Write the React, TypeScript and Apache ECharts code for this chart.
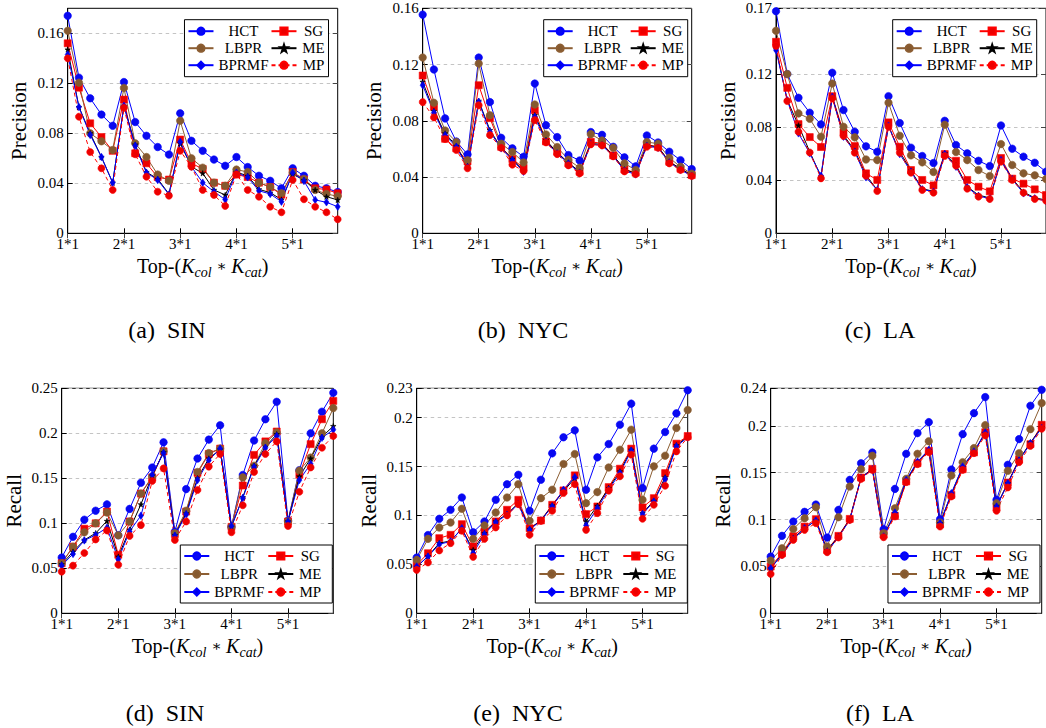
import React, { useEffect, useRef } from 'react';
import * as echarts from 'echarts';

const W = 1046;
const H = 728;
const FONT = 'Liberation Serif, Times New Roman, serif';

// x categories: Top-(Kcol * Kcat)
const K_COL = ['1', '2', '3', '4', '5'];
const K_CAT = ['1', '2', '3', '4', '5'];
const CATEGORIES = K_COL.flatMap((c) => K_CAT.map((k) => `${c}*${k}`));

const METHODS = ['HCT', 'SG', 'LBPR', 'ME', 'BPRMF', 'MP'];

// y tick labels per panel
const TICKS_SIN_PREC = [0, 0.04, 0.08, 0.12, 0.16];
const TICKS_NYC_PREC = [0, 0.04, 0.08, 0.12, 0.16];
const TICKS_LA_PREC = [0, 0.04, 0.08, 0.12, 0.17];
const TICKS_SIN_REC = [0, 0.05, 0.1, 0.15, 0.2, 0.25];
const TICKS_NYC_REC = [0, 0.05, 0.1, 0.15, 0.2, 0.23];
const TICKS_LA_REC = [0, 0.05, 0.1, 0.15, 0.2, 0.24];

// (a) SIN precision
const sinPrecHCT = [0.174, 0.1245, 0.108, 0.095, 0.086, 0.121, 0.089, 0.078, 0.069, 0.063, 0.096, 0.074, 0.066, 0.059, 0.054, 0.061, 0.053, 0.046, 0.042, 0.036, 0.052, 0.046, 0.038, 0.036, 0.033];
const sinPrecSG = [0.152, 0.1165, 0.088, 0.077, 0.066, 0.107, 0.064, 0.056, 0.045, 0.043, 0.075, 0.056, 0.0515, 0.0405, 0.038, 0.047, 0.045, 0.0405, 0.037, 0.031, 0.049, 0.043, 0.036, 0.035, 0.032];
const sinPrecLBPR = [0.162, 0.1205, 0.08, 0.0736, 0.0667, 0.1163, 0.072, 0.061, 0.047, 0.042, 0.09, 0.06, 0.0525, 0.0405, 0.038, 0.051, 0.049, 0.0405, 0.037, 0.032, 0.0485, 0.0435, 0.0347, 0.0315, 0.0296];
const sinPrecME = [0.147, 0.101, 0.08, 0.061, 0.0405, 0.102, 0.071, 0.049, 0.0435, 0.0315, 0.072, 0.0533, 0.048, 0.0347, 0.0307, 0.049, 0.0459, 0.0352, 0.0325, 0.027, 0.0472, 0.0427, 0.0347, 0.0293, 0.0267];
const sinPrecBPRMF = [0.143, 0.101, 0.0787, 0.061, 0.0405, 0.102, 0.07, 0.0485, 0.0427, 0.031, 0.0733, 0.0533, 0.0405, 0.0333, 0.027, 0.0485, 0.0448, 0.034, 0.0315, 0.0253, 0.0485, 0.0419, 0.0267, 0.0248, 0.0213];
const sinPrecMP = [0.14, 0.0933, 0.065, 0.052, 0.0347, 0.1005, 0.0632, 0.0453, 0.0333, 0.0301, 0.066, 0.0533, 0.0347, 0.0307, 0.0219, 0.0472, 0.0347, 0.0293, 0.0213, 0.0168, 0.0427, 0.0272, 0.0213, 0.0168, 0.0112];

// (b) NYC precision
const nycPrecHCT = [0.1555, 0.1165, 0.0817, 0.0653, 0.0561, 0.125, 0.0933, 0.0679, 0.0604, 0.0544, 0.1065, 0.0769, 0.0684, 0.0556, 0.0518, 0.072, 0.07, 0.0615, 0.054, 0.0476, 0.0696, 0.0646, 0.058, 0.052, 0.0457];
const nycPrecSG = [0.1122, 0.0899, 0.0672, 0.0604, 0.0511, 0.1053, 0.0819, 0.0615, 0.0528, 0.0466, 0.0876, 0.0653, 0.058, 0.0497, 0.0438, 0.0651, 0.0639, 0.0554, 0.0454, 0.0431, 0.063, 0.0615, 0.0509, 0.0459, 0.0414];
const nycPrecLBPR = [0.125, 0.0928, 0.0731, 0.0649, 0.052, 0.1207, 0.084, 0.0637, 0.0578, 0.0504, 0.0916, 0.0703, 0.0613, 0.0523, 0.0466, 0.0705, 0.066, 0.0608, 0.0497, 0.045, 0.0649, 0.0637, 0.0537, 0.0473, 0.0424];
const nycPrecME = [0.1077, 0.0869, 0.071, 0.0622, 0.0478, 0.0942, 0.0734, 0.0608, 0.053, 0.0445, 0.084, 0.0663, 0.0573, 0.0502, 0.0438, 0.0639, 0.0632, 0.0554, 0.0454, 0.0426, 0.0625, 0.0615, 0.0509, 0.0459, 0.0414];
const nycPrecBPRMF = [0.1053, 0.0859, 0.0698, 0.0615, 0.0469, 0.0935, 0.0722, 0.0604, 0.0521, 0.0438, 0.0828, 0.0651, 0.0568, 0.0497, 0.0431, 0.0634, 0.0625, 0.0549, 0.0445, 0.0419, 0.062, 0.0608, 0.0504, 0.0452, 0.0407];
const nycPrecMP = [0.0933, 0.0824, 0.067, 0.0592, 0.0462, 0.0911, 0.0698, 0.0608, 0.0488, 0.0443, 0.0805, 0.0646, 0.0563, 0.0483, 0.0426, 0.0632, 0.0625, 0.0547, 0.044, 0.0421, 0.0615, 0.0608, 0.0497, 0.045, 0.0407];

// (c) LA precision
const laPrecHCT = [0.1678, 0.1203, 0.1024, 0.0911, 0.0823, 0.1213, 0.0931, 0.0767, 0.0657, 0.0616, 0.1036, 0.0833, 0.0647, 0.0584, 0.0531, 0.085, 0.0667, 0.0604, 0.0548, 0.0508, 0.0815, 0.0639, 0.0579, 0.0533, 0.0465];
const laPrecSG = [0.1447, 0.1099, 0.0825, 0.0727, 0.0652, 0.1036, 0.0762, 0.0659, 0.0453, 0.0403, 0.0838, 0.0654, 0.0478, 0.0403, 0.0362, 0.0599, 0.0548, 0.0403, 0.0352, 0.0317, 0.0569, 0.0413, 0.0375, 0.0332, 0.0289];
const laPrecLBPR = [0.153, 0.1203, 0.0906, 0.0865, 0.073, 0.1132, 0.0805, 0.0725, 0.0558, 0.0553, 0.0986, 0.0737, 0.0589, 0.0536, 0.0463, 0.082, 0.0614, 0.0553, 0.0478, 0.0433, 0.0674, 0.0516, 0.0453, 0.0438, 0.041];
const laPrecME = [0.1396, 0.1006, 0.0815, 0.0616, 0.0428, 0.1031, 0.0742, 0.0624, 0.044, 0.0327, 0.081, 0.0616, 0.0473, 0.0337, 0.0317, 0.0604, 0.0516, 0.0352, 0.0289, 0.0267, 0.0548, 0.0413, 0.0312, 0.0267, 0.0252];
const laPrecBPRMF = [0.1384, 0.1006, 0.0755, 0.0604, 0.0435, 0.1031, 0.073, 0.0616, 0.0423, 0.0327, 0.0813, 0.0599, 0.0465, 0.0332, 0.0314, 0.0599, 0.0503, 0.0347, 0.0282, 0.0262, 0.0553, 0.0408, 0.0302, 0.0264, 0.0244];
const laPrecMP = [0.1416, 0.0999, 0.0767, 0.0611, 0.0415, 0.1019, 0.0735, 0.0609, 0.0435, 0.0319, 0.0805, 0.0609, 0.0458, 0.0327, 0.0307, 0.0584, 0.0511, 0.0337, 0.0277, 0.0259, 0.0541, 0.0403, 0.0307, 0.0259, 0.0247];

// (d) SIN recall
const sinRecHCT = [0.062, 0.085, 0.104, 0.114, 0.121, 0.0867, 0.116, 0.145, 0.162, 0.19, 0.0907, 0.138, 0.172, 0.193, 0.209, 0.096, 0.1537, 0.192, 0.2156, 0.235, 0.103, 0.159, 0.2, 0.224, 0.245];
const sinRecSG = [0.0556, 0.074, 0.094, 0.1, 0.113, 0.065, 0.102, 0.133, 0.151, 0.18, 0.088, 0.113, 0.156, 0.177, 0.183, 0.096, 0.142, 0.176, 0.191, 0.202, 0.102, 0.154, 0.188, 0.2156, 0.236];
const sinRecLBPR = [0.0556, 0.074, 0.09, 0.1, 0.112, 0.0867, 0.102, 0.133, 0.152, 0.18, 0.089, 0.114, 0.157, 0.178, 0.183, 0.096, 0.151, 0.164, 0.189, 0.201, 0.102, 0.1585, 0.173, 0.2, 0.228];
const sinRecME = [0.0544, 0.0685, 0.0815, 0.089, 0.1026, 0.063, 0.093, 0.121, 0.153, 0.179, 0.087, 0.111, 0.15, 0.172, 0.182, 0.096, 0.129, 0.164, 0.185, 0.199, 0.102, 0.152, 0.172, 0.196, 0.208];
const sinRecBPRMF = [0.053, 0.066, 0.081, 0.087, 0.095, 0.06, 0.091, 0.1085, 0.154, 0.178, 0.0863, 0.11, 0.148, 0.17, 0.183, 0.097, 0.128, 0.1626, 0.184, 0.197, 0.102, 0.148, 0.166, 0.195, 0.204];
const sinRecMP = [0.0463, 0.053, 0.067, 0.082, 0.092, 0.054, 0.086, 0.098, 0.147, 0.161, 0.0815, 0.102, 0.137, 0.163, 0.177, 0.09, 0.12, 0.157, 0.177, 0.191, 0.097, 0.135, 0.162, 0.184, 0.197];

// (e) NYC recall
const nycRecHCT = [0.057, 0.08, 0.0966, 0.1058, 0.1184, 0.0829, 0.0939, 0.116, 0.132, 0.1416, 0.1048, 0.1365, 0.1635, 0.1799, 0.187, 0.1263, 0.1594, 0.173, 0.1928, 0.2143, 0.128, 0.1683, 0.1853, 0.2044, 0.228];
const nycRecSG = [0.0495, 0.0614, 0.0768, 0.0802, 0.0911, 0.0683, 0.0836, 0.0939, 0.1058, 0.116, 0.087, 0.0949, 0.1109, 0.1256, 0.141, 0.1014, 0.1092, 0.129, 0.1478, 0.1683, 0.1082, 0.1177, 0.1433, 0.1734, 0.1812];
const nycRecLBPR = [0.0546, 0.0761, 0.0877, 0.0928, 0.1068, 0.0761, 0.0898, 0.103, 0.1184, 0.132, 0.0945, 0.1177, 0.1263, 0.1526, 0.1628, 0.1126, 0.1239, 0.1491, 0.1672, 0.1877, 0.116, 0.1502, 0.1611, 0.1894, 0.2078];
const nycRecME = [0.0474, 0.0584, 0.0717, 0.074, 0.0863, 0.0648, 0.0819, 0.0939, 0.1014, 0.1126, 0.0863, 0.0949, 0.1102, 0.1246, 0.1382, 0.0939, 0.1099, 0.128, 0.145, 0.1672, 0.1024, 0.115, 0.1389, 0.1717, 0.1805];
const nycRecBPRMF = [0.0478, 0.058, 0.0706, 0.0734, 0.087, 0.0614, 0.0809, 0.0932, 0.1007, 0.1116, 0.0853, 0.0949, 0.1092, 0.1263, 0.1392, 0.0898, 0.1075, 0.1263, 0.1433, 0.1662, 0.1014, 0.1143, 0.1372, 0.1706, 0.1799];
const nycRecMP = [0.0444, 0.0519, 0.0642, 0.0717, 0.0843, 0.0577, 0.0761, 0.0877, 0.1, 0.1116, 0.0802, 0.0945, 0.1048, 0.1229, 0.132, 0.0853, 0.1024, 0.1253, 0.14, 0.1621, 0.0966, 0.1109, 0.1304, 0.1655, 0.1799];

// (f) LA recall
const laRecHCT = [0.0605, 0.0826, 0.0979, 0.1082, 0.116, 0.0808, 0.1103, 0.1423, 0.1601, 0.1715, 0.0897, 0.1327, 0.1701, 0.1922, 0.2039, 0.1004, 0.1534, 0.1911, 0.2135, 0.2306, 0.121, 0.1584, 0.1858, 0.2214, 0.2384];
const laRecSG = [0.0498, 0.0641, 0.0822, 0.0925, 0.1004, 0.0676, 0.0826, 0.1007, 0.1448, 0.1541, 0.0843, 0.1039, 0.1406, 0.1601, 0.1733, 0.095, 0.1263, 0.1537, 0.1715, 0.1932, 0.1128, 0.1395, 0.1644, 0.1804, 0.2011];
const laRecLBPR = [0.0562, 0.0694, 0.09, 0.1014, 0.1132, 0.0712, 0.1025, 0.1352, 0.1537, 0.168, 0.0854, 0.1121, 0.1434, 0.1701, 0.1836, 0.0968, 0.147, 0.1612, 0.1762, 0.2007, 0.1174, 0.152, 0.1708, 0.1964, 0.2242];
const laRecME = [0.048, 0.063, 0.0801, 0.0907, 0.0989, 0.0669, 0.0819, 0.1004, 0.1448, 0.1541, 0.0826, 0.1068, 0.1416, 0.1612, 0.174, 0.0961, 0.1274, 0.1562, 0.1722, 0.1922, 0.1146, 0.1388, 0.1637, 0.1822, 0.1982];
const laRecBPRMF = [0.048, 0.0623, 0.079, 0.0907, 0.0989, 0.0658, 0.0811, 0.0996, 0.1441, 0.1537, 0.0819, 0.1075, 0.1423, 0.1619, 0.1744, 0.0961, 0.1281, 0.1566, 0.1726, 0.1929, 0.1139, 0.1388, 0.163, 0.1815, 0.1975];
const laRecMP = [0.042, 0.0623, 0.0783, 0.089, 0.0961, 0.0651, 0.0808, 0.0996, 0.1434, 0.153, 0.0811, 0.1032, 0.1399, 0.1591, 0.1719, 0.0925, 0.1246, 0.153, 0.1708, 0.1897, 0.1093, 0.1342, 0.1612, 0.1786, 0.1968];

const STAR = 'path://M50,0 L61.8,35.3 98.9,35.3 68.8,57.2 80.2,92.7 50,70.8 19.8,92.7 31.2,57.2 1.1,35.3 38.2,35.3 Z';

type MethodStyle = { line: string; fill: string; symbol: string; size: number | number[]; dashed?: boolean };
const STYLES: Record<string, MethodStyle> = {
  HCT: { line: '#0000ff', fill: '#0808f0', symbol: 'circle', size: 7.5 },
  SG: { line: '#ff0000', fill: '#ec0000', symbol: 'rect', size: 7 },
  LBPR: { line: '#8c5e33', fill: '#85592f', symbol: 'circle', size: 7.5 },
  ME: { line: '#000000', fill: '#000000', symbol: STAR, size: 5.5 },
  BPRMF: { line: '#0000ff', fill: '#0000e6', symbol: 'diamond', size: [5, 7.5] },
  MP: { line: '#ff0000', fill: '#ec0000', symbol: 'circle', size: 7, dashed: true },
};

type Panel = {
  caption: string;
  capX: number;
  capY: number;
  yName: string;
  yMax: number;
  yStep: number;
  ticks: number[];
  grid: { left: number; top: number; width: number; height: number };
  legendRight: number;
  legendTop: number;
  bottomRow: boolean;
  data: Record<string, number[]>;
};

const TOP_Y = 8.3;
const BOT_Y = 388.3;
const PH = 225;

const PANELS: Panel[] = [
  {
    caption: '(a)  SIN', capX: 167, capY: 330, yName: 'Precision', yMax: 0.18, yStep: 0.04, ticks: TICKS_SIN_PREC,
    grid: { left: 67.7, top: TOP_Y, width: 270, height: PH }, legendRight: W - 328.5, legendTop: 19.7, bottomRow: false,
    data: { HCT: sinPrecHCT, SG: sinPrecSG, LBPR: sinPrecLBPR, ME: sinPrecME, BPRMF: sinPrecBPRMF, MP: sinPrecMP },
  },
  {
    caption: '(b)  NYC', capX: 523, capY: 330, yName: 'Precision', yMax: 0.16, yStep: 0.04, ticks: TICKS_NYC_PREC,
    grid: { left: 422.7, top: TOP_Y, width: 269, height: PH }, legendRight: W - 687.7, legendTop: 19.7, bottomRow: false,
    data: { HCT: nycPrecHCT, SG: nycPrecSG, LBPR: nycPrecLBPR, ME: nycPrecME, BPRMF: nycPrecBPRMF, MP: nycPrecMP },
  },
  {
    caption: '(c)  LA', capX: 880, capY: 330, yName: 'Precision', yMax: 0.17, yStep: 0.04, ticks: TICKS_LA_PREC,
    grid: { left: 776, top: TOP_Y, width: 270, height: PH }, legendRight: W - 1036.7, legendTop: 19.7, bottomRow: false,
    data: { HCT: laPrecHCT, SG: laPrecSG, LBPR: laPrecLBPR, ME: laPrecME, BPRMF: laPrecBPRMF, MP: laPrecMP },
  },
  {
    caption: '(d)  SIN', capX: 165, capY: 713, yName: 'Recall', yMax: 0.25, yStep: 0.05, ticks: TICKS_SIN_REC,
    grid: { left: 61.7, top: BOT_Y, width: 271.6, height: PH }, legendRight: W - 332.3, legendTop: 545, bottomRow: true,
    data: { HCT: sinRecHCT, SG: sinRecSG, LBPR: sinRecLBPR, ME: sinRecME, BPRMF: sinRecBPRMF, MP: sinRecMP },
  },
  {
    caption: '(e)  NYC', capX: 518, capY: 713, yName: 'Recall', yMax: 0.23, yStep: 0.05, ticks: TICKS_NYC_REC,
    grid: { left: 416.7, top: BOT_Y, width: 271, height: PH }, legendRight: W - 687.3, legendTop: 545, bottomRow: true,
    data: { HCT: nycRecHCT, SG: nycRecSG, LBPR: nycRecLBPR, ME: nycRecME, BPRMF: nycRecBPRMF, MP: nycRecMP },
  },
  {
    caption: '(f)  LA', capX: 880, capY: 713, yName: 'Recall', yMax: 0.24, yStep: 0.05, ticks: TICKS_LA_REC,
    grid: { left: 770.7, top: BOT_Y, width: 271, height: PH }, legendRight: W - 1040, legendTop: 545, bottomRow: true,
    data: { HCT: laRecHCT, SG: laRecSG, LBPR: laRecLBPR, ME: laRecME, BPRMF: laRecBPRMF, MP: laRecMP },
  },
];

const SECOND_COLUMN = new Set(['SG', 'ME', 'MP']);

function buildOption() {
  const grids: any[] = [];
  const xAxes: any[] = [];
  const yAxes: any[] = [];
  const series: any[] = [];
  const legends: any[] = [];
  const graphics: any[] = [];

  PANELS.forEach((p, i) => {
    grids.push({ ...p.grid, show: true, borderColor: '#000', borderWidth: 1, backgroundColor: 'transparent' });

    const fmt = (v: number) => (p.ticks.some((t) => Math.abs(t - v) < 1e-9) ? String(v) : '');

    // bottom axis with labels and the axis title
    xAxes.push({
      type: 'category', gridIndex: i, data: CATEGORIES, boundaryGap: false,
      axisLine: { show: true, lineStyle: { color: '#000', width: 1 } },
      axisTick: { show: true, inside: true, length: 5, interval: 4, lineStyle: { color: '#000' } },
      axisLabel: { interval: 4, color: '#000', fontSize: 15, fontFamily: FONT, margin: 5, lineHeight: 12 },
      splitLine: { show: false },
      name: '{n|Top-(}{k|K}{s|col}{o| ∗ }{k|K}{s|cat}{n|)}',
      nameLocation: 'middle', nameGap: 20,
      nameTextStyle: {
        color: '#000', fontFamily: FONT, fontSize: 20,
        rich: {
          n: { fontSize: 20, fontFamily: FONT, color: '#000', lineHeight: 26 },
          o: { fontSize: 15, fontFamily: 'DejaVu Serif, serif', color: '#000', lineHeight: 26 },
          k: { fontSize: 20, fontFamily: FONT, fontStyle: 'italic', color: '#000', lineHeight: 26 },
          s: { fontSize: 14, fontFamily: FONT, fontStyle: 'italic', color: '#000', lineHeight: 14, verticalAlign: 'bottom' },
        },
      },
    });
    // mirrored ticks on the top edge
    xAxes.push({
      type: 'category', gridIndex: i, position: 'top', data: CATEGORIES, boundaryGap: false,
      axisLine: { show: false },
      axisTick: { show: true, inside: true, length: 5, interval: 4, lineStyle: { color: '#444' } },
      axisLabel: { show: false }, splitLine: { show: false },
    });

    yAxes.push({
      type: 'value', gridIndex: i, min: 0, max: p.yMax, interval: p.yStep,
      axisLine: { show: true, lineStyle: { color: '#000', width: 1 } },
      axisTick: { show: true, inside: true, length: 5, customValues: p.ticks, lineStyle: { color: '#000' } },
      axisLabel: { customValues: p.ticks, formatter: fmt, color: '#000', fontSize: 15, fontFamily: FONT, margin: 4, lineHeight: 10 },
      splitLine: { show: true, lineStyle: { color: '#c4c4c4', width: 1, type: [3.5, 3.5] } },
      name: p.yName, nameLocation: 'middle', nameGap: p.bottomRow ? 37 : 38,
      nameTextStyle: { color: '#000', fontFamily: FONT, fontSize: 21 },
    });
    // mirrored ticks on the right edge
    yAxes.push({
      type: 'value', gridIndex: i, position: 'right', min: 0, max: p.yMax, interval: p.yStep,
      axisLine: { show: false },
      axisTick: { show: true, inside: true, length: 5, customValues: p.ticks, lineStyle: { color: '#444' } },
      axisLabel: { show: false }, splitLine: { show: false },
    });

    METHODS.forEach((m) => {
      const s = STYLES[m];
      series.push({
        type: 'line', name: m, xAxisIndex: 2 * i, yAxisIndex: 2 * i, data: p.data[m],
        symbol: s.symbol, symbolSize: s.size, showAllSymbol: true, clip: false, silent: true,
        lineStyle: { color: s.line, width: 1, type: s.dashed ? [4, 3] : 'solid' },
        itemStyle: { color: s.fill, borderColor: s.line, borderWidth: 0.6 },
        emphasis: { disabled: true },
      });
    });

    legends.push({
      data: ['HCT', 'SG', 'LBPR', 'ME', 'BPRMF', 'MP'],
      orient: 'horizontal', align: 'left',
      right: p.legendRight, top: p.legendTop, width: 170,
      itemWidth: 25, itemHeight: 9,
      itemGap: p.bottomRow ? 3 : 2,
      padding: p.bottomRow ? [3.5, 10, 3.5, 3] : [4, 3, 4, 3],
      borderColor: '#000', borderWidth: 1, backgroundColor: '#fff',
      selectedMode: false,
      formatter: (name: string) => `{${SECOND_COLUMN.has(name) ? 'b' : 'a'}|${name}}`,
      textStyle: {
        color: '#000', fontFamily: FONT, fontSize: 15,
        rich: {
          a: { width: 50, align: 'center', fontSize: 15, fontFamily: FONT, color: '#000', lineHeight: 15 },
          b: { width: 24, align: 'center', fontSize: 15, fontFamily: FONT, color: '#000', lineHeight: 15 },
        },
      },
    });

    graphics.push({
      type: 'text', x: p.capX, y: p.capY,
      style: { text: p.caption, fill: '#000', font: `24px ${FONT}`, align: 'center', verticalAlign: 'middle' },
    });
  });

  return {
    animation: false,
    backgroundColor: '#fff',
    grid: grids,
    xAxis: xAxes,
    yAxis: yAxes,
    legend: legends,
    series,
    graphic: graphics,
  };
}

export default function App() {
  const ref = useRef<HTMLDivElement>(null);
  useEffect(() => {
    if (!ref.current) return;
    const chart = echarts.init(ref.current, null, { renderer: 'svg', width: W, height: H });
    chart.setOption(buildOption() as any);
    return () => chart.dispose();
  }, []);
  return (
    <div
      ref={ref}
      style={{ position: 'fixed', left: 0, top: 0, width: W, height: H, background: '#fff' }}
    />
  );
}
